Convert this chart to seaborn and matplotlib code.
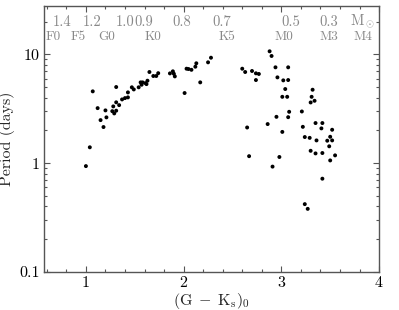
import numpy as np
import pandas as pd
import matplotlib
matplotlib.use("Agg")
import matplotlib.pyplot as plt
import seaborn as sns
from matplotlib.ticker import MultipleLocator, LogLocator, NullFormatter

# colour (G-Ks)_0 and rotation period (days)
color = [1.00, 1.04, 1.07, 1.12, 1.15, 1.18, 1.20, 1.21, 1.27, 1.28, 1.29, 1.31,
         1.31, 1.31, 1.34, 1.37, 1.40, 1.43, 1.43, 1.47, 1.49, 1.54, 1.56, 1.57,
         1.58, 1.62, 1.63, 1.61, 1.65, 1.69, 1.72, 1.74, 1.86, 1.89, 1.90, 1.91,
         2.01, 2.03, 2.05, 2.08, 2.12, 2.13, 2.17, 2.25, 2.28,
         2.60, 2.63, 2.65, 2.67, 2.70, 2.74, 2.77, 2.74, 2.86, 2.88, 2.90, 2.91,
         2.94, 2.95, 2.96, 2.98, 3.01, 3.01, 3.02, 3.04, 3.06, 3.07, 3.07, 3.07,
         3.08, 3.21, 3.22, 3.24, 3.29, 3.24, 3.27, 3.30, 3.32, 3.31, 3.30, 3.34,
         3.35, 3.35, 3.36, 3.41, 3.42, 3.42, 3.42, 3.47, 3.49, 3.50, 3.52, 3.52,
         3.50, 3.55]
period = [0.94, 1.40, 4.58, 3.21, 2.49, 2.15, 3.06, 2.64, 3.01, 3.33, 2.87, 3.04,
          5.02, 3.63, 3.42, 3.86, 3.97, 4.03, 4.48, 4.99, 4.77, 4.99, 5.54, 5.27,
          5.54, 5.34, 5.74, 5.45, 6.90, 6.34, 6.34, 6.73, 6.70, 7.00, 6.65, 6.29,
          4.42, 7.40, 7.35, 7.23, 7.72, 8.30, 5.54, 8.47, 9.34,
          7.40, 6.90, 2.13, 1.16, 7.05, 6.71, 6.62, 5.82, 2.29, 10.7, 9.69, 0.93,
          7.62, 2.67, 6.16, 1.14, 4.08, 1.94, 5.78, 4.81, 4.08, 5.82, 7.62, 2.65,
          2.97, 2.99, 2.16, 1.74, 1.71, 0.42, 0.38, 1.30, 4.74, 4.08, 3.62, 3.75,
          1.23, 2.34, 1.62, 2.09, 2.34, 1.24, 0.72, 1.61, 1.43, 1.75, 2.03, 1.62,
          1.06, 1.18]

# mass and spectral type scale along the top
mass_labels = ["1.4", "1.2", "1.0", "0.9", "0.8", "0.7", "0.5", "0.3", r"M$_\odot$"]
mass_pos = [0.76, 1.06, 1.40, 1.59, 1.98, 2.39, 3.10, 3.49, 3.83]
sptype_labels = ["F0", "F5", "G0", "K0", "K5", "M0", "M3", "M4"]
sptype_pos = [0.67, 0.92, 1.21, 1.69, 2.44, 3.03, 3.49, 3.83]

df = pd.DataFrame({"color": color, "period": period})

sns.set_style("ticks")
plt.rcParams["font.family"] = ["cmr10", "DejaVu Serif"]
plt.rcParams["mathtext.fontset"] = "cm"
plt.rcParams["axes.formatter.use_mathtext"] = True

fig = plt.figure(figsize=(3.99, 3.10), dpi=100)
ax = fig.add_axes([0.110, 0.123, 0.840, 0.858])

sns.scatterplot(data=df, x="color", y="period", ax=ax, color="black",
                s=8, edgecolor="none", legend=False)

ax.set_yscale("log")
ax.set_xlim(0.57, 4.0)
ax.set_ylim(0.1, 28)

ax.set_xticks([1, 2, 3, 4])
ax.set_xticklabels(["1", "2", "3", "4"], fontsize=11.5)
ax.xaxis.set_minor_locator(MultipleLocator(0.2))
ax.set_yticks([0.1, 1, 10])
ax.set_yticklabels(["0.1", "1", "10"], fontsize=11.5)
ax.yaxis.set_minor_locator(LogLocator(base=10, subs=np.arange(2, 10)))
ax.yaxis.set_minor_formatter(NullFormatter())

ax.tick_params(which="both", direction="in", top=True, right=True,
               color="#555555", width=0.8, labelcolor="black")
ax.tick_params(which="major", length=4, pad=3)
ax.tick_params(which="minor", length=2)
for sp in ax.spines.values():
    sp.set_color("#555555")
    sp.set_linewidth(1.0)

ax.set_xlabel(r"$(\mathrm{G}\;-\;\mathrm{K}_\mathrm{s})_0$", fontsize=11.5, labelpad=1)
ax.set_ylabel("Period (days)", fontsize=11.5, labelpad=3)

for lab, xp in zip(mass_labels, mass_pos):
    ax.text(xp, 20, lab, ha="center", va="center", color="#888888", fontsize=10.5)
for lab, xp in zip(sptype_labels, sptype_pos):
    ax.text(xp, 14.6, lab, ha="center", va="center", color="#888888", fontsize=9.5)

fig.savefig("out.png", dpi=100)
